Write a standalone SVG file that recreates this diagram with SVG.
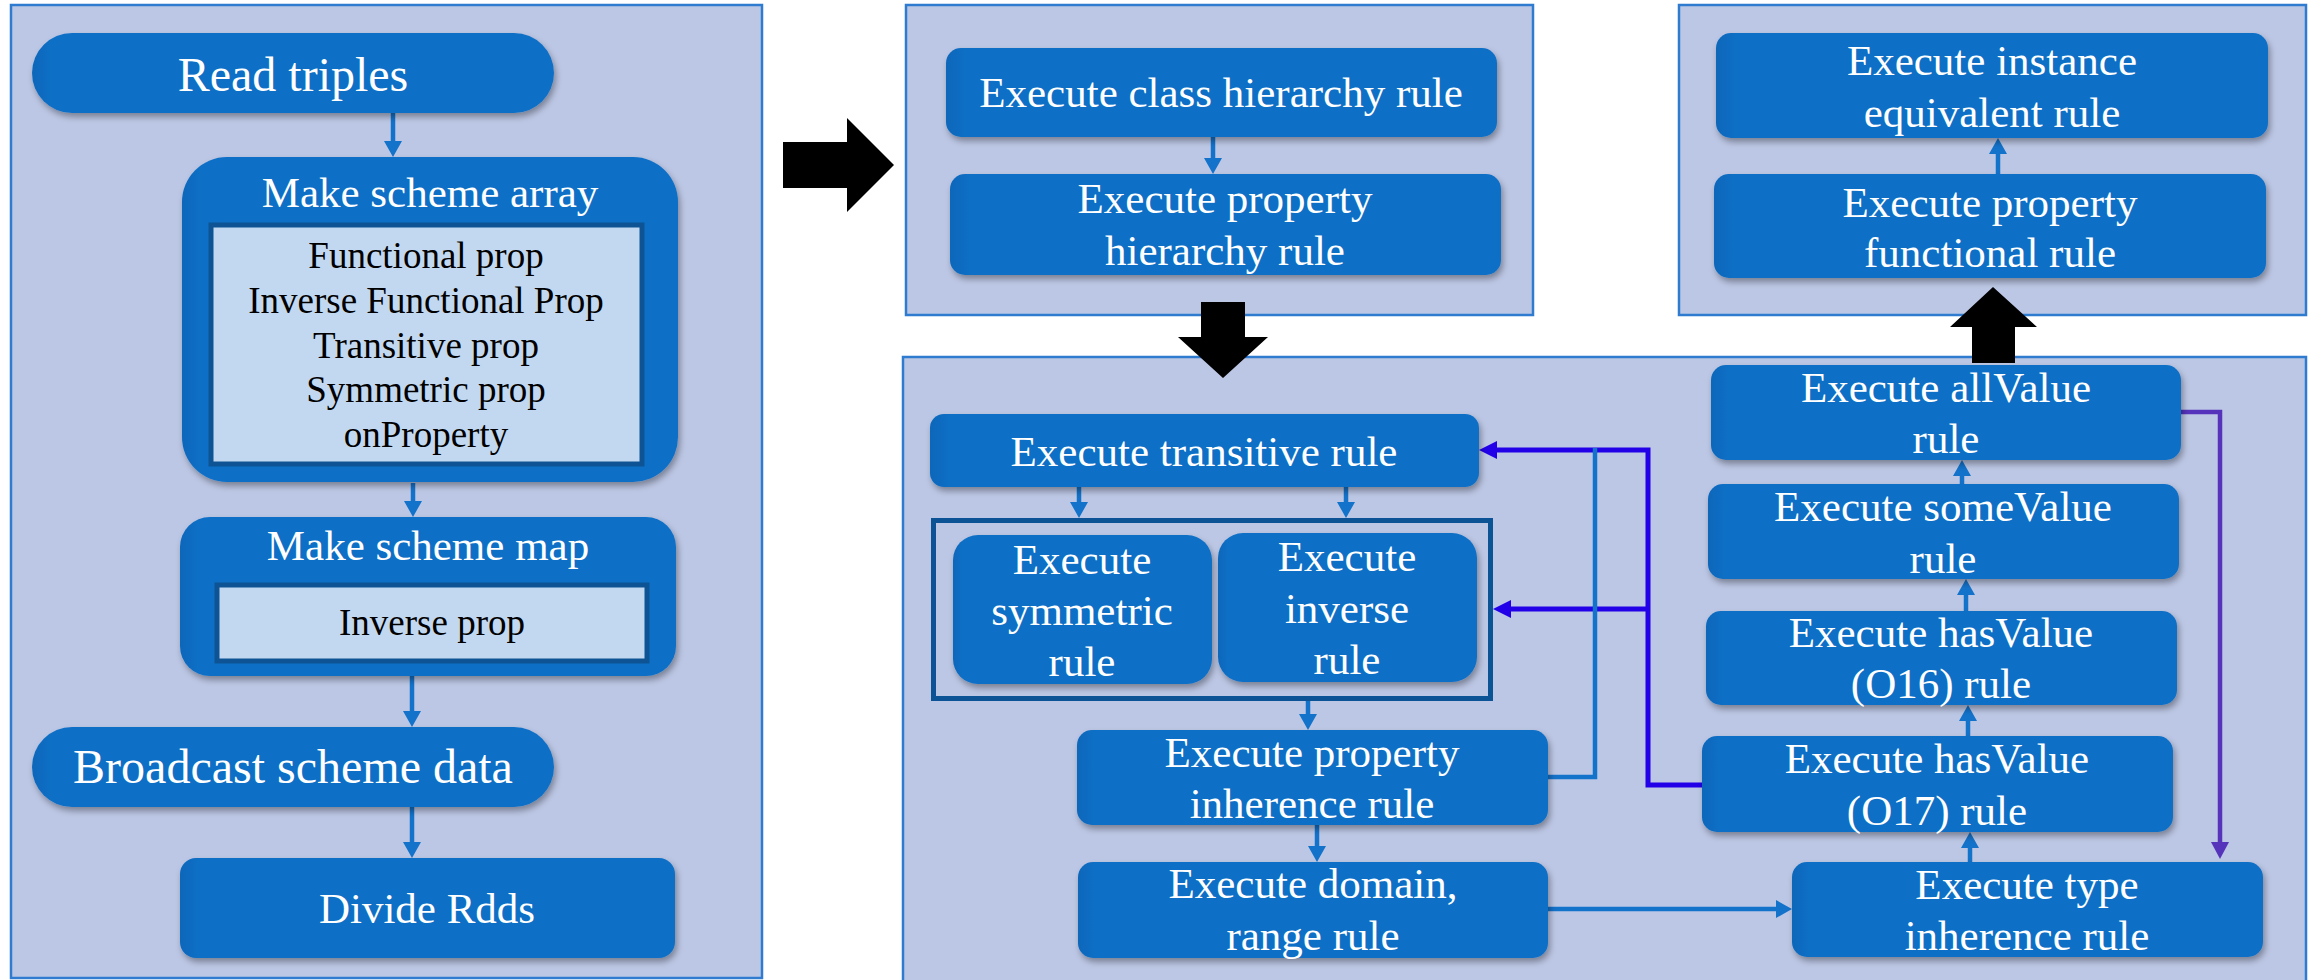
<svg xmlns="http://www.w3.org/2000/svg" width="2310" height="980" viewBox="0 0 2310 980">
  <style>
    .panel { fill: #BCC7E5; stroke: #2E7BD0; stroke-width: 2.5; }
    .node { fill: url(#nodeFill); filter: url(#shadow); }
    .inner { fill: #C2D8F1; stroke: #0E5494; stroke-width: 5; }
    .frame { fill: none; stroke: #0B5394; stroke-width: 5; }
    .t { font-family: "Liberation Serif", "Times New Roman", serif; font-size: 43px; fill: #FFFFFF; text-anchor: middle; }
    .big { font-size: 48px; }
    .k { font-family: "Liberation Serif", "Times New Roman", serif; font-size: 37px; fill: #000000; text-anchor: middle; }
    .c { fill: none; stroke: #1372C9; stroke-width: 4.5; marker-end: url(#ah); }
    .cb { fill: none; stroke: #2200E8; stroke-width: 5; }
    .cp { fill: none; stroke: #5533BB; stroke-width: 4.5; marker-end: url(#ahp); }
    .big-arrow { fill: #000000; }
  </style>
  <defs>
    <linearGradient id="nodeFill" x1="0" y1="0" x2="1" y2="0">
      <stop offset="0" stop-color="#0F67BA"/>
      <stop offset="0.04" stop-color="#1170C6"/>
      <stop offset="1" stop-color="#1170C6"/>
    </linearGradient>
    <filter id="shadow" x="-5%" y="-10%" width="115%" height="130%">
      <feDropShadow dx="2" dy="4" stdDeviation="3" flood-color="#000000" flood-opacity="0.35"/>
    </filter>
    <marker id="ah" markerUnits="userSpaceOnUse" markerWidth="18" markerHeight="20" refX="8" refY="9" orient="auto">
      <path d="M0,0 L16,9 L0,18 z" fill="#1372C9"/>
    </marker>
    <marker id="ahb" markerUnits="userSpaceOnUse" markerWidth="20" markerHeight="20" refX="8" refY="9" orient="auto">
      <path d="M0,0 L18,9 L0,18 z" fill="#2200E8"/>
    </marker>
    <marker id="ahp" markerUnits="userSpaceOnUse" markerWidth="20" markerHeight="20" refX="8" refY="9" orient="auto">
      <path d="M0,0 L17,9 L0,18 z" fill="#5533BB"/>
    </marker>
  </defs>

  <!-- stage panels -->
  <g id="panels">
    <rect class="panel" x="11" y="5" width="751" height="973"/>
    <rect class="panel" x="906" y="5" width="627" height="310"/>
    <rect class="panel" x="1679" y="5" width="627" height="310"/>
    <rect class="panel" x="903" y="357" width="1403" height="632"/>
  </g>

  <!-- connectors -->
  <g id="connectors">
    <path class="c" d="M393,113 V149"/>
    <path class="c" d="M413,483 V509"/>
    <path class="c" d="M412,676 V719"/>
    <path class="c" d="M412,807 V850"/>
    <path class="c" d="M1213,137 V166"/>
    <path class="c" d="M1998,174 V146"/>
    <path class="c" d="M1079,487 V510"/>
    <path class="c" d="M1346,487 V510"/>
    <path class="c" d="M1308,701 V722"/>
    <path class="c" d="M1317,825 V854"/>
    <path class="c" d="M1548,909 H1784"/>
    <path class="c" d="M1970,862 V840"/>
    <path class="c" d="M1968,736 V713"/>
    <path class="c" d="M1966,611 V587"/>
    <path class="c" d="M1962,484 V468"/>
    <path class="cp" d="M2181,412 H2220 V850"/>
    <path class="cb" d="M1702,785 H1648 V450 H1489" marker-end="url(#ahb)"/>
    <path class="cb" d="M1648,609 H1503" marker-end="url(#ahb)"/>
    <path class="c" d="M1548,777 H1595 V448" style="marker-end:none"/>
  </g>

  <!-- left panel nodes -->
  <g id="read-triples">
    <rect class="node" x="32" y="33" width="522" height="80" rx="40"/>
    <text class="t big" x="293" y="91">Read triples</text>
  </g>
  <g id="make-scheme-array">
    <rect class="node" x="182" y="157" width="496" height="325" rx="45"/>
    <text class="t" x="430" y="207">Make scheme array</text>
    <rect class="inner" x="211" y="225" width="431" height="239"/>
    <text class="k" x="426" y="268">Functional prop</text>
    <text class="k" x="426" y="313">Inverse Functional Prop</text>
    <text class="k" x="426" y="358">Transitive prop</text>
    <text class="k" x="426" y="402">Symmetric prop</text>
    <text class="k" x="426" y="447">onProperty</text>
  </g>
  <g id="make-scheme-map">
    <rect class="node" x="180" y="517" width="496" height="159" rx="30"/>
    <text class="t" x="428" y="560">Make scheme map</text>
    <rect class="inner" x="217" y="585" width="430" height="76"/>
    <text class="k" x="432" y="635">Inverse prop</text>
  </g>
  <g id="broadcast-scheme-data">
    <rect class="node" x="32" y="727" width="522" height="80" rx="40"/>
    <text class="t big" x="293" y="783">Broadcast scheme data</text>
  </g>
  <g id="divide-rdds">
    <rect class="node" x="180" y="858" width="495" height="100" rx="16"/>
    <text class="t" x="427" y="923">Divide Rdds</text>
  </g>

  <!-- top middle panel nodes -->
  <g id="class-hierarchy">
    <rect class="node" x="946" y="48" width="551" height="89" rx="15"/>
    <text class="t" x="1221" y="107">Execute class hierarchy rule</text>
  </g>
  <g id="property-hierarchy">
    <rect class="node" x="950" y="174" width="551" height="101" rx="15"/>
    <text class="t" x="1225" y="213">Execute property</text>
    <text class="t" x="1225" y="265">hierarchy rule</text>
  </g>

  <!-- top right panel nodes -->
  <g id="instance-equivalent">
    <rect class="node" x="1716" y="33" width="552" height="105" rx="15"/>
    <text class="t" x="1992" y="75">Execute instance</text>
    <text class="t" x="1992" y="127">equivalent rule</text>
  </g>
  <g id="property-functional">
    <rect class="node" x="1714" y="174" width="552" height="104" rx="15"/>
    <text class="t" x="1990" y="217">Execute property</text>
    <text class="t" x="1990" y="267">functional rule</text>
  </g>

  <!-- bottom panel nodes -->
  <g id="transitive">
    <rect class="node" x="930" y="414" width="549" height="73" rx="14"/>
    <text class="t" x="1204" y="466">Execute transitive rule</text>
  </g>
  <g id="symmetric-inverse-group">
    <rect class="frame" x="933.5" y="520.5" width="557" height="178"/>
  </g>
  <g id="symmetric">
    <rect class="node" x="953" y="535" width="259" height="149" rx="25"/>
    <text class="t" x="1082" y="574">Execute</text>
    <text class="t" x="1082" y="625">symmetric</text>
    <text class="t" x="1082" y="676">rule</text>
  </g>
  <g id="inverse">
    <rect class="node" x="1218" y="533" width="259" height="149" rx="25"/>
    <text class="t" x="1347" y="571">Execute</text>
    <text class="t" x="1347" y="623">inverse</text>
    <text class="t" x="1347" y="674">rule</text>
  </g>
  <g id="property-inherence">
    <rect class="node" x="1077" y="730" width="471" height="95" rx="15"/>
    <text class="t" x="1312" y="767">Execute property</text>
    <text class="t" x="1312" y="818">inherence rule</text>
  </g>
  <g id="domain-range">
    <rect class="node" x="1078" y="862" width="470" height="96" rx="15"/>
    <text class="t" x="1313" y="898">Execute domain,</text>
    <text class="t" x="1313" y="950">range rule</text>
  </g>
  <g id="all-value">
    <rect class="node" x="1711" y="365" width="470" height="95" rx="15"/>
    <text class="t" x="1946" y="402">Execute allValue</text>
    <text class="t" x="1946" y="453">rule</text>
  </g>
  <g id="some-value">
    <rect class="node" x="1708" y="484" width="471" height="95" rx="15"/>
    <text class="t" x="1943" y="521">Execute someValue</text>
    <text class="t" x="1943" y="573">rule</text>
  </g>
  <g id="has-value-o16">
    <rect class="node" x="1706" y="611" width="471" height="94" rx="15"/>
    <text class="t" x="1941" y="647">Execute hasValue</text>
    <text class="t" x="1941" y="698">(O16) rule</text>
  </g>
  <g id="has-value-o17">
    <rect class="node" x="1702" y="736" width="471" height="96" rx="15"/>
    <text class="t" x="1937" y="773">Execute hasValue</text>
    <text class="t" x="1937" y="825">(O17) rule</text>
  </g>
  <g id="type-inherence">
    <rect class="node" x="1792" y="862" width="471" height="95" rx="15"/>
    <text class="t" x="2027" y="899">Execute type</text>
    <text class="t" x="2027" y="950">inherence rule</text>
  </g>

  <!-- stage transition arrows -->
  <g id="stage-arrows">
    <polygon class="big-arrow" points="783,142 847,142 847,118 894,165 847,212 847,188 783,188"/>
    <polygon class="big-arrow" points="1201,302 1245,302 1245,337 1268,337 1223,378 1178,337 1201,337"/>
    <polygon class="big-arrow" points="1972,363 2015,363 2015,327 2037,327 1993,287 1950,327 1972,327"/>
  </g>
</svg>
